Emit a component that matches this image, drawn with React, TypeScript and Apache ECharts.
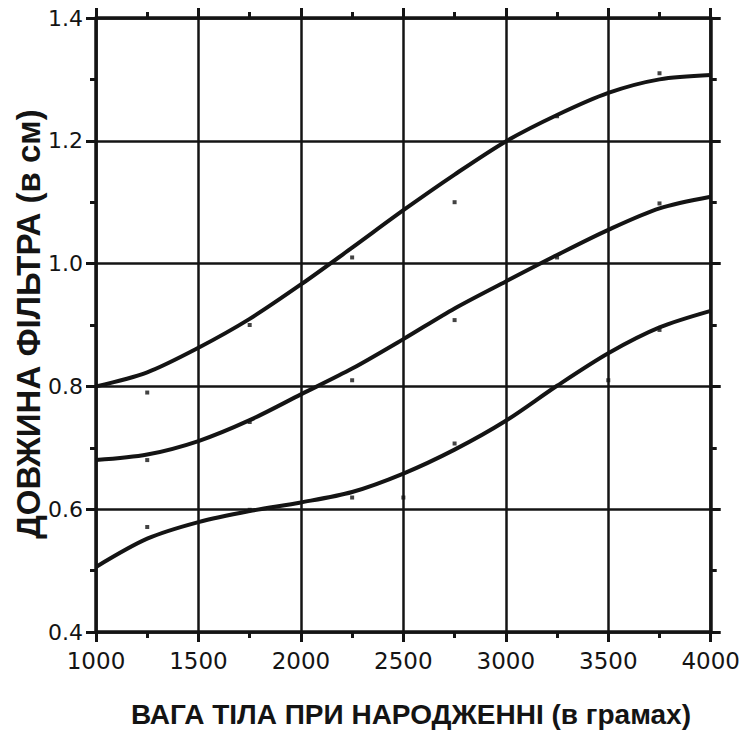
import React, { useEffect, useRef } from "react";
import * as echarts from "echarts";

const xTicks = [1000, 1500, 2000, 2500, 3000, 3500, 4000];
const weights = [1000, 1250, 1500, 1750, 2000, 2250, 2500, 2750, 3000, 3250, 3500, 3750, 4000];
const upperCurve = [0.8, 0.823, 0.863, 0.91, 0.966, 1.026, 1.087, 1.145, 1.199, 1.242, 1.278, 1.3, 1.307];
const middleCurve = [0.68, 0.689, 0.711, 0.745, 0.787, 0.829, 0.877, 0.927, 0.971, 1.014, 1.055, 1.09, 1.109];
const lowerCurve = [0.506, 0.552, 0.579, 0.597, 0.611, 0.628, 0.658, 0.697, 0.744, 0.801, 0.854, 0.896, 0.923];

const upperDots: [number, number][] = [[1250, 0.79], [1750, 0.9], [2250, 1.01], [2750, 1.1], [3250, 1.24], [3750, 1.31]];
const middleDots: [number, number][] = [[1250, 0.68], [1750, 0.742], [2250, 0.81], [2750, 0.908], [3250, 1.01], [3750, 1.098]];
const lowerDots: [number, number][] = [[1250, 0.571], [1750, 0.599], [2250, 0.619], [2500, 0.619], [2750, 0.707], [3500, 0.81], [3750, 0.892]];

const xTitle = "ВАГА ТІЛА ПРИ НАРОДЖЕННІ (в грамах)";
const yTitle = "ДОВЖИНА ФІЛЬТРА (в см)";

const INK = "#141414";

export default function App() {
  const ref = useRef<HTMLDivElement>(null);
  useEffect(() => {
    if (!ref.current) return;
    const chart = echarts.init(ref.current, undefined, { renderer: "svg" });
    const pairs = (ys: number[]) => weights.map((w, i) => [w, ys[i]]);
    const axisCommon = {
      type: "value" as const,
      axisLine: { show: true, lineStyle: { color: INK, width: 3.5 } },
      axisTick: { show: true, inside: false, length: 10, lineStyle: { color: INK, width: 3 } },
      minorTick: { show: true, splitNumber: 2, length: 6, lineStyle: { color: INK, width: 3 } },
      minorSplitLine: { show: false },
    };
    const lineSeries = (data: number[][]) => ({
      type: "line",
      data,
      smooth: 0.3,
      showSymbol: false,
      lineStyle: { color: INK, width: 4 },
      xAxisIndex: 0,
      yAxisIndex: 0,
      z: 5,
    });
    const dotSeries = (data: [number, number][]) => ({
      type: "scatter",
      data,
      symbol: "rect",
      symbolSize: 4,
      itemStyle: { color: INK },
      xAxisIndex: 0,
      yAxisIndex: 0,
      z: 6,
    });
    chart.setOption({
      animation: false,
      backgroundColor: "#ffffff",
      grid: { left: 96, right: 30, top: 18, bottom: 100, containLabel: false },
      xAxis: [
        {
          ...axisCommon,
          position: "bottom",
          min: xTicks[0],
          max: xTicks[xTicks.length - 1],
          interval: 500,
          axisLabel: {
            color: INK,
            fontFamily: "DejaVu Sans",
            fontSize: 23,
            margin: 17,
            showMinLabel: true,
            showMaxLabel: true,
            formatter: (v: number) => String(v),
          },
          splitLine: { show: true, lineStyle: { color: INK, width: 2.5 } },
        },
        {
          ...axisCommon,
          position: "top",
          min: xTicks[0],
          max: xTicks[xTicks.length - 1],
          interval: 500,
          axisLabel: { show: false },
          splitLine: { show: false },
        },
      ],
      yAxis: [
        {
          ...axisCommon,
          position: "left",
          min: 0.4,
          max: 1.4,
          interval: 0.2,
          axisLabel: {
            color: INK,
            fontFamily: "DejaVu Sans",
            fontSize: 22,
            margin: 13,
            formatter: (v: number) => v.toFixed(1),
          },
          splitLine: { show: true, lineStyle: { color: INK, width: 2.5 } },
        },
        {
          ...axisCommon,
          position: "right",
          min: 0.4,
          max: 1.4,
          interval: 0.2,
          axisLabel: { show: false },
          splitLine: { show: false },
        },
      ],
      graphic: [
        {
          type: "text",
          x: 411,
          y: 714,
          style: {
            text: xTitle,
            fill: INK,
            font: "bold 28px 'Liberation Sans', Arial, sans-serif",
            textAlign: "center",
            textVerticalAlign: "middle",
          },
        },
        {
          type: "text",
          x: 28,
          y: 324,
          rotation: Math.PI / 2,
          style: {
            text: yTitle,
            fill: INK,
            font: "bold 33px 'Liberation Sans', Arial, sans-serif",
            textAlign: "center",
            textVerticalAlign: "middle",
          },
        },
      ],
      series: [
        lineSeries(pairs(upperCurve)),
        lineSeries(pairs(middleCurve)),
        lineSeries(pairs(lowerCurve)),
        dotSeries(upperDots),
        dotSeries(middleDots),
        dotSeries(lowerDots),
      ],
    });
    return () => chart.dispose();
  }, []);
  return (
    <div
      ref={ref}
      style={{ position: "fixed", left: 0, top: 0, width: 743, height: 732, background: "#fff" }}
    />
  );
}
